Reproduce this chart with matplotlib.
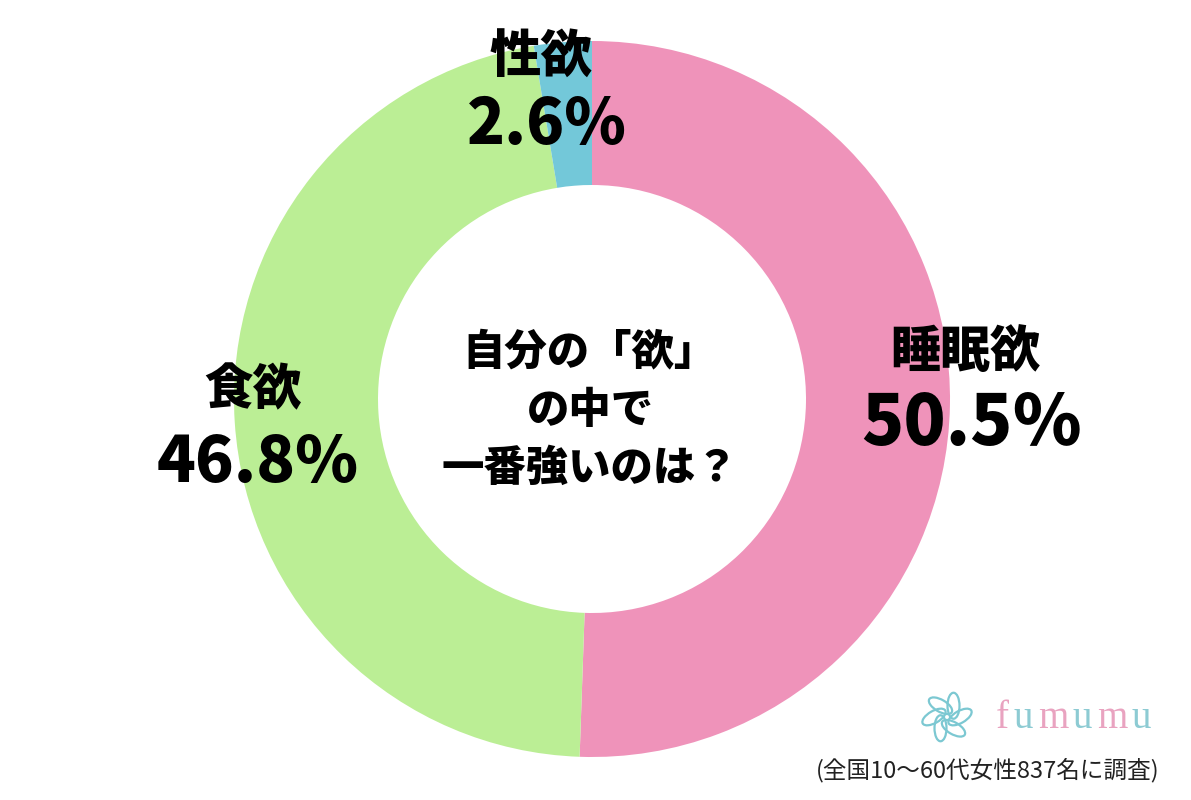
import numpy as np
import matplotlib
matplotlib.use('Agg')
import matplotlib.pyplot as plt
from matplotlib.patches import Ellipse

plt.rcParams['font.family'] = ['Noto Sans CJK JP', 'DejaVu Sans']

# data
labels = ["睡眠欲", "食欲", "性欲"]
values = [50.5, 46.8, 2.6]
pct_labels = ["50.5％", "46.8%", "2.6%"]
colors = ["#EF93BA", "#BBEE95", "#73C8D9"]
center_text = ["自分の「欲」", "の中で", "一番強いのは？"]
note = "(全国10～60代女性837名に調査)"

W, H = 1191, 800
fig = plt.figure(figsize=(W / 100, H / 100), dpi=100)
ax = fig.add_axes([0, 0, 1, 1])
ax.set_xlim(0, W)
ax.set_ylim(0, H)
ax.set_aspect('equal')
ax.axis('off')

cx, cy = 592, H - 399
r_out = 358
r_in = 214

ax.pie(values, colors=colors, startangle=90, counterclock=False,
       center=(cx, cy), radius=r_out,
       wedgeprops=dict(width=r_out - r_in, linewidth=0))
ax.set_xlim(0, W)
ax.set_ylim(0, H)

# slice labels (name, percent) in image coords
name_pos = [(965, 352), (253, 390), (541, 57)]
pct_pos = [(972, 425), (258, 463), (547, 125)]
pct_size = [50, 46, 45]
name_size = [36, 35, 37]
for lab, pct, (nx, ny), (px, py), ns, ps in zip(labels, pct_labels, name_pos,
                                                 pct_pos, name_size, pct_size):
    ax.text(nx, H - ny, lab, ha='center', va='center', fontsize=ns,
            fontweight='black', color='black')
    ax.text(px, H - py, pct, ha='center', va='center', fontsize=ps,
            fontweight='black', color='black')

# center question
for i, line in enumerate(center_text):
    ax.text(590, H - (352 + 58 * i), line, ha='center', va='center',
            fontsize=30.5, fontweight='black', color='black')

# logo flower
teal = "#7CC8D2"
fx, fy = 947, H - 717
for ang in range(0, 360, 60):
    a = np.deg2rad(ang)
    e = Ellipse((fx + 13 * np.cos(a), fy + 13 * np.sin(a)), 26, 12,
                angle=ang + 30, fill=False, edgecolor=teal, linewidth=1.6)
    ax.add_patch(e)

# logo text
logo = "fumumu"
logo_colors = ["#E9A3C0", "#8DCBD3"] * 3
x0 = 996
adv = [18, 24, 35, 24, 35, 24]
for ch, col, a in zip(logo, logo_colors, adv):
    ax.text(x0, H - 718, ch, ha='left', va='center', fontsize=28,
            family='Liberation Serif', color=col)
    x0 += a

ax.text(1160, H - 770, note, ha='right', va='center', fontsize=17,
        color='#222222')

plt.savefig("out.png", dpi=100)
